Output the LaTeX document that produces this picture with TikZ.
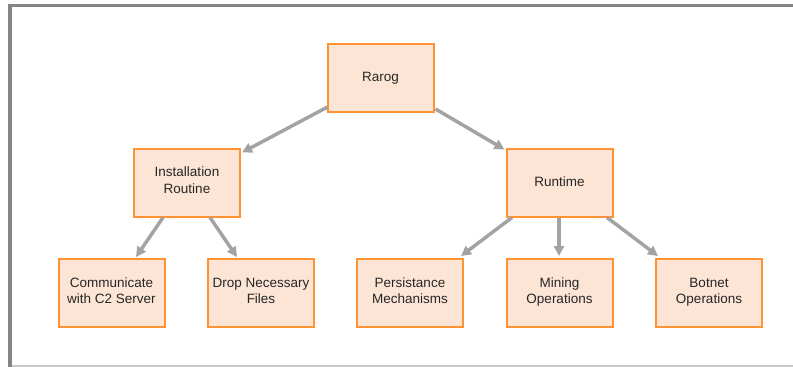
\documentclass[tikz,border=0pt]{standalone}
\usepackage{fontspec}
\setmainfont{Liberation Sans}
\usetikzlibrary{arrows.meta}
\definecolor{boxfill}{HTML}{FDE5D5}
\definecolor{boxline}{HTML}{FF9233}
\definecolor{arrowgray}{HTML}{A3A3A3}
\definecolor{framedark}{HTML}{858585}
\definecolor{framelight}{HTML}{C8C8C8}
\newcommand{\boxstrut}{\rule[-4.3pt]{0pt}{16.5pt}}
\tikzset{
  box/.style={draw=boxline, fill=boxfill, line width=2pt, minimum width=106pt, minimum height=68pt,
    inner sep=0pt, align=center, font=\fontsize{13.5pt}{16.5pt}\selectfont, text=black!85,
    execute at begin node=\boxstrut, execute at end node=\boxstrut},
  conn/.style={draw=arrowgray, line width=3.5pt, -{Triangle[length=10pt,width=10pt]}}
}
\begin{document}
\begin{tikzpicture}[x=1pt,y=1pt]
\useasboundingbox (0,0) rectangle (793,-367);
% frame
\draw[framelight, line width=1.5pt] (8,-366) -- (793,-366);
\draw[framedark, line width=3.5pt] (10,-367) -- (10,-5.3) -- (793,-5.3);
% nodes
\node[box] (rarog) at (380.5,-78) {Rarog};
\node[box] (inst) at (187,-182.5) {Installation\\Routine};
\node[box] (run) at (559.5,-182.5) {Runtime};
\node[box] (comm) at (111.5,-293) {Communicate\\with C2 Server};
\node[box] (drop) at (261,-293) {Drop Necessary\\Files};
\node[box] (pers) at (410,-293) {Persistance\\Mechanisms};
\node[box] (mine) at (559.5,-293) {Mining\\Operations};
\node[box] (bot) at (709,-293) {Botnet\\Operations};
% connectors
\draw[conn] ([xshift=1pt,yshift=6pt]rarog.south west) -- ([xshift=1pt,yshift=-5pt]inst.north east);
\draw[conn] ([xshift=1pt,yshift=4pt]rarog.south east) -- ([xshift=-1pt,yshift=-2pt]run.north west);
\draw[conn] ([xshift=-24pt]inst.south) -- ([xshift=24.5pt,yshift=1pt]comm.north);
\draw[conn] ([xshift=23pt]inst.south) -- ([xshift=-24pt,yshift=1pt]drop.north);
\draw[conn] ([xshift=-47.5pt]run.south) -- ([xshift=-3pt,yshift=2pt]pers.north east);
\draw[conn] ([xshift=-0.5pt]run.south) -- ([xshift=-0.5pt,yshift=2pt]mine.north);
\draw[conn] ([xshift=47.5pt]run.south) -- ([xshift=3pt,yshift=2pt]bot.north west);
\end{tikzpicture}
\end{document}
